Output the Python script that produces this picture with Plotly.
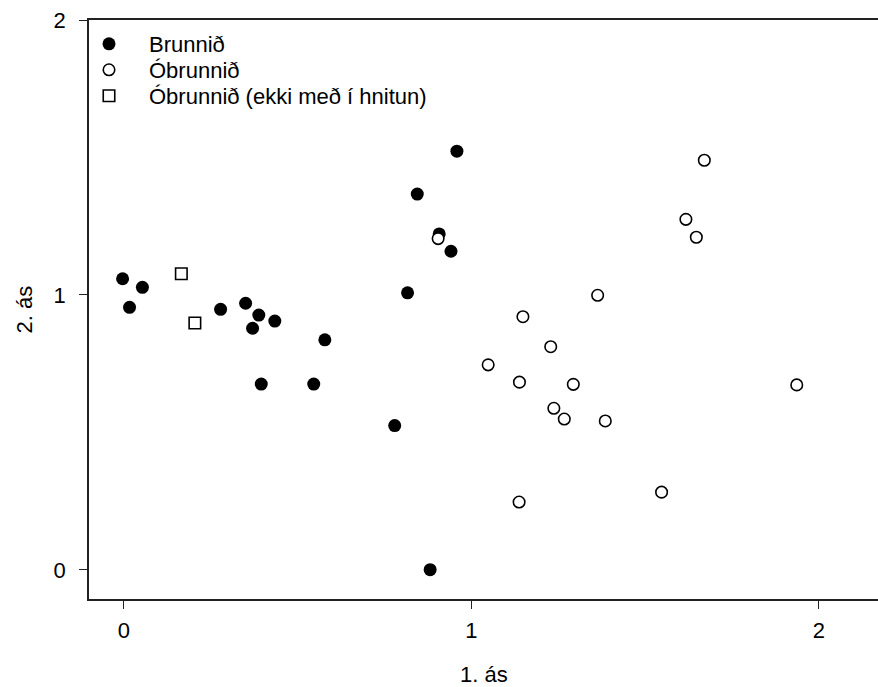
import plotly.graph_objects as go

# Brunnið (filled circles)
burned_x = [-0.004, 0.053, 0.016, 0.278, 0.350, 0.388, 0.434, 0.370, 0.578, 0.395, 0.546,
            0.958, 0.844, 0.907, 0.941, 0.816, 0.779, 0.881]
burned_y = [1.059, 1.028, 0.955, 0.948, 0.970, 0.927, 0.905, 0.879, 0.837, 0.676, 0.676,
            1.523, 1.367, 1.222, 1.159, 1.008, 0.525, 0.001]

# Óbrunnið (open circles)
unburned_x = [0.904, 1.363, 1.148, 1.228, 1.048, 1.138, 1.293, 1.237, 1.267, 1.385, 1.137,
              1.670, 1.617, 1.647, 1.547, 1.936]
unburned_y = [1.205, 0.999, 0.921, 0.812, 0.746, 0.683, 0.675, 0.588, 0.549, 0.542, 0.247,
              1.490, 1.275, 1.210, 0.283, 0.673]

# Óbrunnið (ekki með í hnitun) (open squares)
excluded_x = [0.165, 0.204]
excluded_y = [1.077, 0.898]

x_ticks = [0, 1, 2]
y_ticks = [0, 1, 2]

FONT = "Arial, Liberation Sans, sans-serif"
FS = 22

fig = go.Figure()
fig.add_trace(go.Scatter(
    x=burned_x, y=burned_y, mode="markers", name="Brunnið", legend="legend",
    marker=dict(symbol="circle", size=13, color="black", line=dict(width=0)),
))
fig.add_trace(go.Scatter(
    x=unburned_x, y=unburned_y, mode="markers", name="Óbrunnið", legend="legend2",
    marker=dict(symbol="circle", size=11.5, color="white", line=dict(width=1.6, color="black")),
))
fig.add_trace(go.Scatter(
    x=excluded_x, y=excluded_y, mode="markers", name="Óbrunnið (ekki með í hnitun)",
    legend="legend3",
    marker=dict(symbol="square", size=11.5, color="white", line=dict(width=1.6, color="black")),
))

PLOT_TOP, PLOT_BOTTOM, PLOT_LEFT, PLOT_W = 20, 599, 89, 789
PLOT_H = PLOT_BOTTOM - PLOT_TOP


def py(pix):
    return (PLOT_BOTTOM - pix) / PLOT_H


def px(pix):
    return (pix - PLOT_LEFT) / PLOT_W


def leg(ypix):
    return dict(
        x=px(69), y=py(ypix), xanchor="left", yanchor="middle",
        bgcolor="rgba(0,0,0,0)", borderwidth=0,
        font=dict(family=FONT, size=FS, color="black"),
        itemwidth=70,
    )


fig.update_layout(
    width=878, height=687,
    margin=dict(l=89, r=0, t=20, b=88),
    paper_bgcolor="white", plot_bgcolor="white",
    font=dict(family=FONT, size=FS, color="black"),
    showlegend=True,
    hovermode=False,
    legend=leg(44),
    legend2=leg(70),
    legend3=leg(96),
    xaxis=dict(
        range=[-0.1007, 2.1698], tickvals=x_ticks, ticktext=[str(v) for v in x_ticks],
        showgrid=False, zeroline=False, showline=True, linecolor="#222", linewidth=1.5,
        mirror=True, ticks="outside", ticklen=8, tickwidth=1.2, tickcolor="#222",
        ticklabelstandoff=3,
        tickfont=dict(family=FONT, size=FS, color="black"),
    ),
    yaxis=dict(
        range=[-0.1055, 2.0], tickvals=y_ticks, ticktext=[str(v) for v in y_ticks],
        showgrid=False, zeroline=False, showline=True, linecolor="#222", linewidth=1.5,
        ticks="outside", ticklen=8, tickwidth=1.2, tickcolor="#222",
        ticklabelstandoff=9,
        tickfont=dict(family=FONT, size=FS, color="black"),
    ),
    annotations=[
        dict(text="1. ás", xref="paper", yref="paper", x=0.5, y=py(674),
             xanchor="center", yanchor="middle", showarrow=False,
             font=dict(family=FONT, size=FS, color="black")),
        dict(text="2. ás", xref="paper", yref="paper", x=px(24), y=0.5,
             xanchor="center", yanchor="middle", showarrow=False, textangle=-90,
             font=dict(family=FONT, size=FS, color="black")),
    ],
)

fig.write_html(
    "out.html",
    config={"displayModeBar": False},
    post_script="document.body.style.margin='0';document.body.style.overflow='hidden';",
)
